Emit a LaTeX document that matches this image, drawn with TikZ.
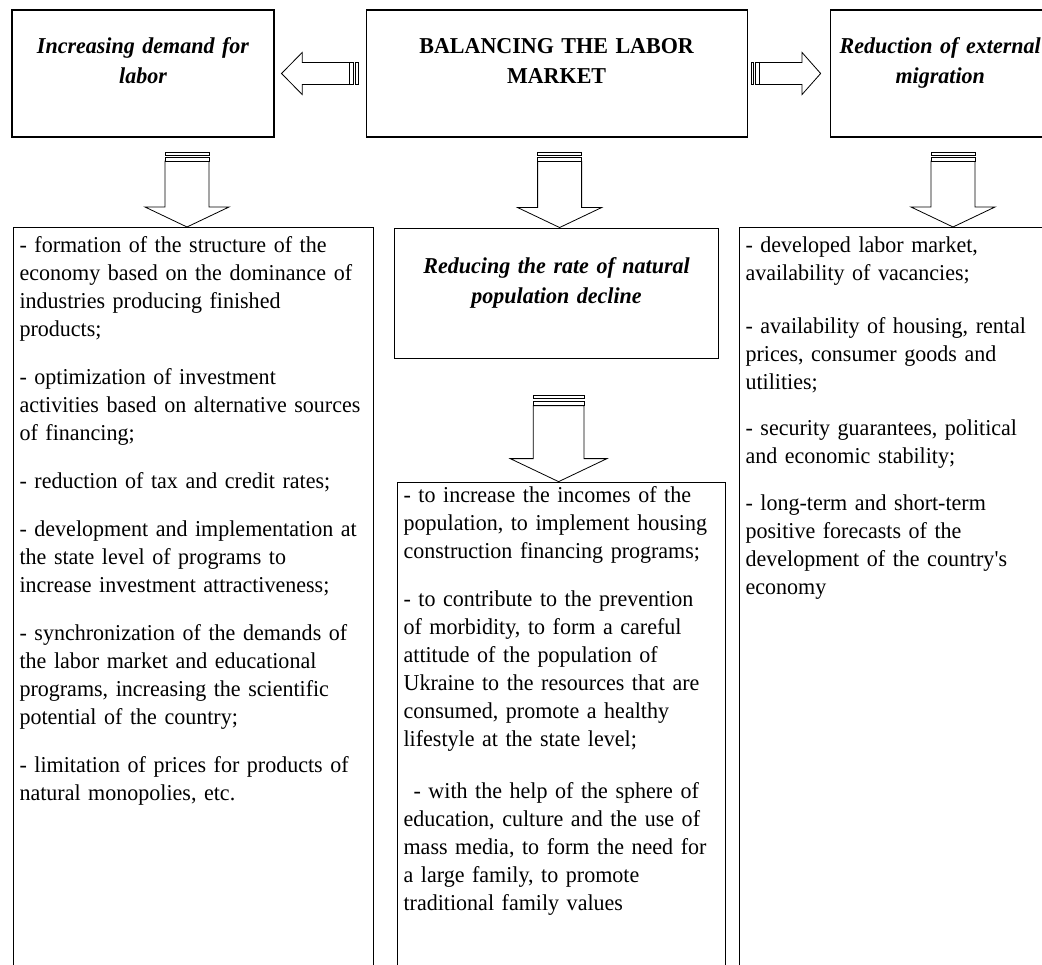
\documentclass[tikz,border=0pt]{standalone}
\usepackage{fontspec}
\setmainfont{Liberation Serif}[FakeStretch=0.97]
\usetikzlibrary{positioning,calc}

\tikzset{
  arrowline/.style={line width=0.8pt, fill=white},
  blkarrow/.pic={
    \draw[arrowline] (0,0) -- (-20,21) -- (-20,11) -- (-66,11) -- (-66,-11) -- (-20,-11) -- (-20,-21) -- cycle;
    \draw[arrowline] (-66,-11) rectangle (-70,11);
    \draw[arrowline] (-72,-11) rectangle (-75,11);
  },
  box/.style={draw, line width=1.1pt, rectangle, inner xsep=6pt},
  title/.style={box, align=center, text depth=56pt,
    font=\fontsize{22.7}{30}\selectfont\bfseries},
  textbox/.style={box, align=left, text depth=900pt,
    font=\fontsize{22.7}{28}\selectfont}
}

\begin{document}
\begin{tikzpicture}[x=1pt,y=-1pt]
  \path[use as bounding box, fill=white] (0,0) rectangle (1042,965);
  \clip (0,0) rectangle (1042,965);

  % Top row
  \node[title, minimum width=262pt, minimum height=127pt, text width=250pt,
    font=\fontsize{22.7}{30}\selectfont\bfseries\itshape] (demand) at (143,73.5)
    {Increasing demand for\\labor};
  \node[title, minimum width=381pt, minimum height=127pt, text width=369pt,
    right=91pt of demand] (balance) {BALANCING THE LABOR\\MARKET};
  \node[title, minimum width=220pt, minimum height=127pt, text width=208pt,
    font=\fontsize{22.7}{30}\selectfont\bfseries\itshape,
    right=82pt of balance] (migration) {Reduction of external\\migration};

  % Middle
  \node[title, minimum width=324pt, minimum height=130pt, text width=312pt,
    font=\fontsize{22.7}{30}\selectfont\bfseries\itshape,
    below=90pt of balance] (decline) {Reducing the rate of natural\\population decline};

  % Lists
  \node[textbox, anchor=north west, text width=348pt, inner ysep=9pt] (demandlist) at (13,227)
    {- formation of the structure of the\\
     economy based on the dominance of\\
     industries producing finished\\
     products;\\[20pt]
     - optimization of investment\\
     activities based on alternative sources\\
     of financing;\\[20pt]
     - reduction of tax and credit rates;\\[20pt]
     - development and implementation at\\
     the state level of programs to\\
     increase investment attractiveness;\\[20pt]
     - synchronization of the demands of\\
     the labor market and educational\\
     programs, increasing the scientific\\
     potential of the country;\\[20pt]
     - limitation of prices for products of\\
     natural monopolies, etc.};
  \node[textbox, anchor=north, text width=316pt, inner ysep=4pt,
    below=123pt of decline, xshift=5pt] (declinelist)
    {- to increase the incomes of the\\
     population, to implement housing\\
     construction financing programs;\\[20pt]
     - to contribute to the prevention\\
     of morbidity, to form a careful\\
     attitude of the population of\\
     Ukraine to the resources that are\\
     consumed, promote a healthy\\
     lifestyle at the state level;\\[24pt]
     \hspace*{10pt}- with the help of the sphere of\\
     education, culture and the use of\\
     mass media, to form the need for\\
     a large family, to promote\\
     traditional family values};
  \node[textbox, anchor=north west, text width=330pt, inner ysep=9pt] (migrationlist) at (739,227)
    {- developed labor market,\\
     availability of vacancies;\\[25pt]
     - availability of housing, rental\\
     prices, consumer goods and\\
     utilities;\\[18pt]
     - security guarantees, political\\
     and economic stability;\\[19pt]
     - long-term and short-term\\
     positive forecasts of the\\
     development of the country\textquotesingle s\\
     economy};

  % Block arrows
  \pic[rotate=180, xscale=1.03] at ($(demand.east)+(7,0)$) {blkarrow};
  \pic[xscale=0.93] at ($(migration.west)+(-9,0)$) {blkarrow};
  \pic[rotate=-90, yscale=2] at ([xshift=174pt]demandlist.north west) {blkarrow};
  \pic[rotate=-90, yscale=2] at ([xshift=3pt]decline.north) {blkarrow};
  \pic[rotate=-90, yscale=2] at ([xshift=214pt]migrationlist.north west) {blkarrow};
  \pic[rotate=-90, xscale=1.15, yscale=2.3] at ([xshift=-3pt]declinelist.north) {blkarrow};

\end{tikzpicture}
\end{document}
